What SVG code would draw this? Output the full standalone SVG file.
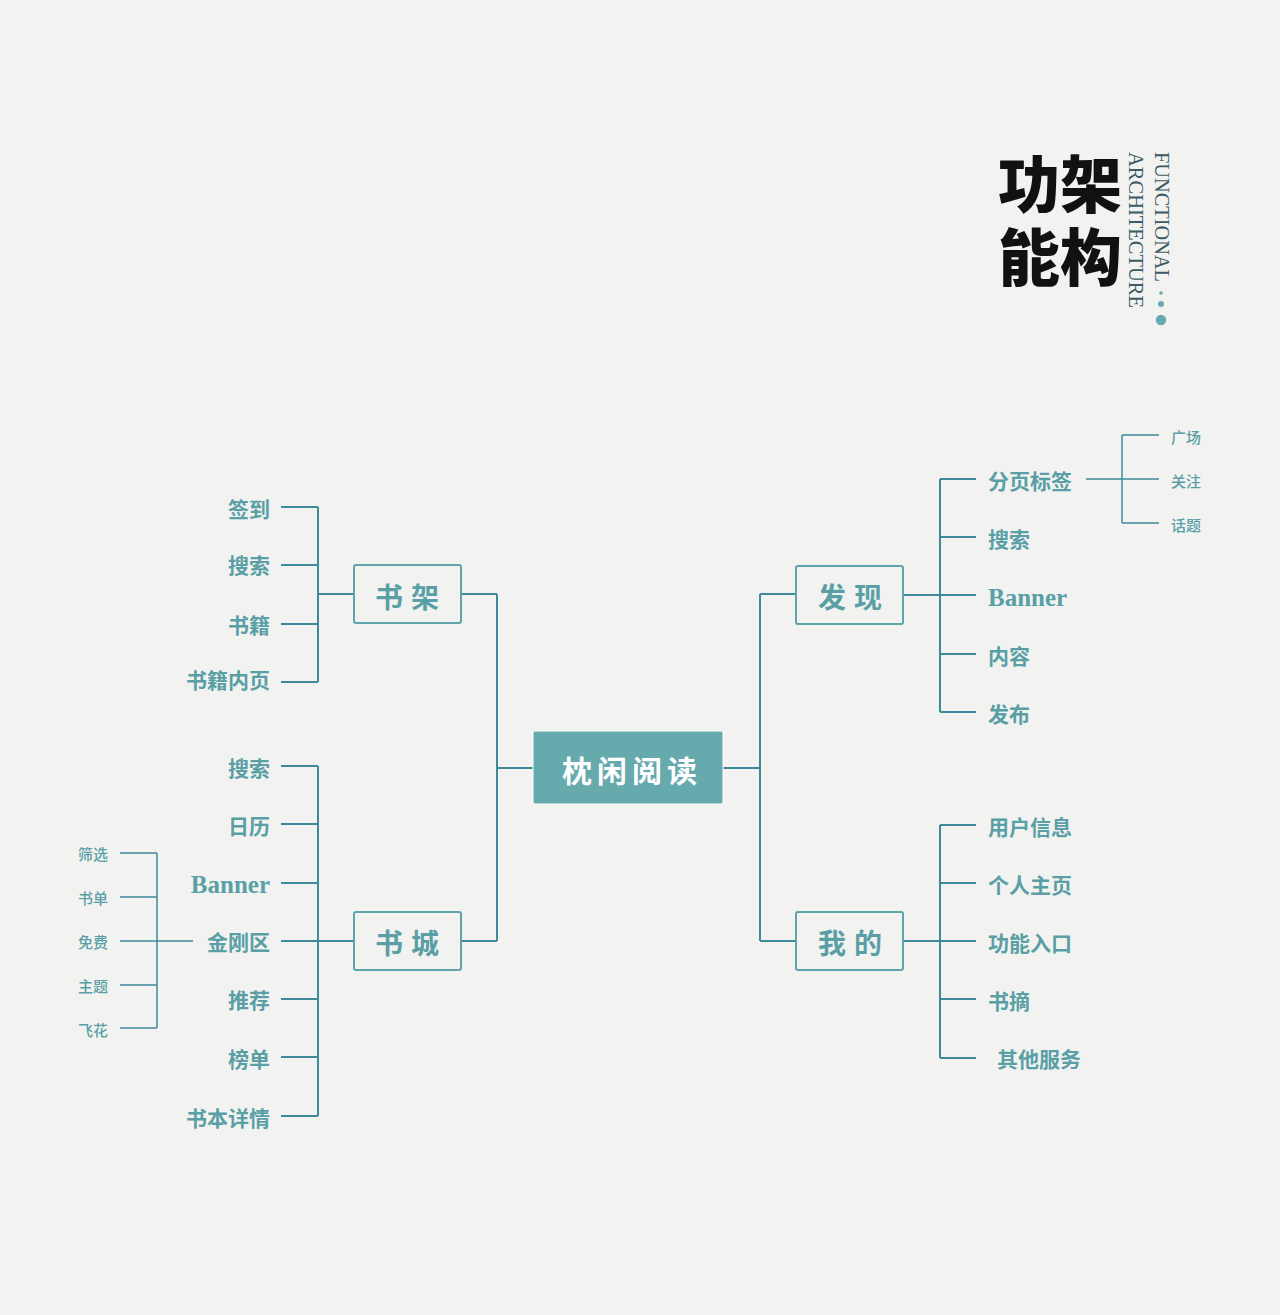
<svg xmlns="http://www.w3.org/2000/svg" width="1280" height="1315" viewBox="0 0 1280 1315">
<style>
.ln{stroke:#3f8a9a;stroke-width:2;fill:none}
.ln2{stroke:#3f8a9a;stroke-width:1.5;fill:none}
.box{fill:none;stroke:#5fa4aa;stroke-width:2}
.t{font-family:"Noto Sans CJK SC","Liberation Serif",sans-serif;font-weight:700;fill:#5a9fa6;dominant-baseline:central}
.l{font-size:21px}
.s{font-size:15px;font-weight:500}
.en{font-family:"Liberation Serif",serif;font-weight:700;font-size:25px;fill:#5a9fa6;dominant-baseline:central}
.nt{font-size:28px;text-anchor:middle;letter-spacing:8px}
.r{text-anchor:end}
</style>
<rect width="1280" height="1315" fill="#f2f3f0"/>
<g id="title">
<text font-family="Noto Sans CJK SC, sans-serif" font-weight="900" font-size="62" fill="#111" dominant-baseline="central"><tspan x="998" y="181">功架</tspan><tspan x="998" y="254">能构</tspan></text>
<text transform="translate(1155,152) rotate(90)" font-family="Liberation Serif, serif" font-size="20" fill="#3d5b66" textLength="130" lengthAdjust="spacingAndGlyphs">FUNCTIONAL</text>
<text transform="translate(1129,152) rotate(90)" font-family="Liberation Serif, serif" font-size="20" fill="#3d5b66" textLength="156" lengthAdjust="spacingAndGlyphs">ARCHITECTURE</text>
<circle cx="1161" cy="293" r="1.8" fill="#66aaae"/>
<circle cx="1161" cy="304" r="3" fill="#66aaae"/>
<circle cx="1161" cy="320" r="5.2" fill="#66aaae"/>
</g>
<g id="connectors">
<path class="ln" d="M533 768H497M497 594V941M461 594H497M461 941H497"/>
<path class="ln" d="M354 594H318M318 507V682M281 507H318M281 565H318M281 624H318M281 682H318"/>
<path class="ln" d="M354 941H318M318 766V1116M281 766H318M281 824H318M281 883H318M281 941H318M281 999H318M281 1057H318M281 1116H318"/>
<path class="ln2" d="M193 941H157M157 853V1028M120 853H157M120 897H157M120 941H157M120 985H157M120 1028H157"/>
<path class="ln" d="M723 768H760M760 594V941M760 594H796M760 941H796"/>
<path class="ln" d="M903 595H940M940 479V712M940 479H976M940 537H976M940 595H976M940 654H976M940 712H976"/>
<path class="ln2" d="M1086 479H1159M1122 435V523M1122 435H1159M1122 523H1159"/>
<path class="ln" d="M903 941H940M940 825V1058M940 825H976M940 883H976M940 941H976M940 999H976M940 1058H976"/>
</g>
<g id="center">
<rect x="533" y="731" width="190" height="73" rx="2" fill="#66aaae" stroke="#ffffff" stroke-width="1"/>
<text x="632" y="769" class="t" font-size="30" style="fill:#fff;text-anchor:middle;letter-spacing:5px">枕闲阅读</text>
</g>
<g id="shujia">
<rect class="box" x="354" y="565" width="107" height="58" rx="2"/>
<text class="t nt" x="411" y="596">书架</text>
</g>
<g id="shucheng">
<rect class="box" x="354" y="912" width="107" height="58" rx="2"/>
<text class="t nt" x="411" y="942">书城</text>
</g>
<g id="faxian">
<rect class="box" x="796" y="566" width="107" height="58" rx="2"/>
<text class="t nt" x="854" y="596">发现</text>
</g>
<g id="wode">
<rect class="box" x="796" y="912" width="107" height="58" rx="2"/>
<text class="t nt" x="854" y="942">我的</text>
</g>
<g id="shujia-leaves">
<text class="t l r" x="270" y="508">签到</text>
<text class="t l r" x="270" y="564">搜索</text>
<text class="t l r" x="270" y="624">书籍</text>
<text class="t l r" x="270" y="679">书籍内页</text>
</g>
<g id="shucheng-leaves">
<text class="t l r" x="270" y="767">搜索</text>
<text class="t l r" x="270" y="825">日历</text>
<text class="en" x="270" y="884" style="text-anchor:end">Banner</text>
<text class="t l r" x="270" y="941">金刚区</text>
<text class="t l r" x="270" y="999">推荐</text>
<text class="t l r" x="270" y="1058">榜单</text>
<text class="t l r" x="270" y="1117">书本详情</text>
</g>
<g id="jingang-leaves">
<text class="t s" x="78" y="853">筛选</text>
<text class="t s" x="78" y="897">书单</text>
<text class="t s" x="78" y="941">免费</text>
<text class="t s" x="78" y="985">主题</text>
<text class="t s" x="78" y="1029">飞花</text>
</g>
<g id="faxian-leaves">
<text class="t l" x="988" y="480">分页标签</text>
<text class="t l" x="988" y="538">搜索</text>
<text class="en" x="988" y="597">Banner</text>
<text class="t l" x="988" y="655">内容</text>
<text class="t l" x="988" y="713">发布</text>
</g>
<g id="fenye-leaves">
<text class="t s" x="1171" y="436">广场</text>
<text class="t s" x="1171" y="480">关注</text>
<text class="t s" x="1171" y="524">话题</text>
</g>
<g id="wode-leaves">
<text class="t l" x="988" y="826">用户信息</text>
<text class="t l" x="988" y="884">个人主页</text>
<text class="t l" x="988" y="942">功能入口</text>
<text class="t l" x="988" y="1000">书摘</text>
<text class="t l" x="997" y="1058">其他服务</text>
</g>
</svg>
